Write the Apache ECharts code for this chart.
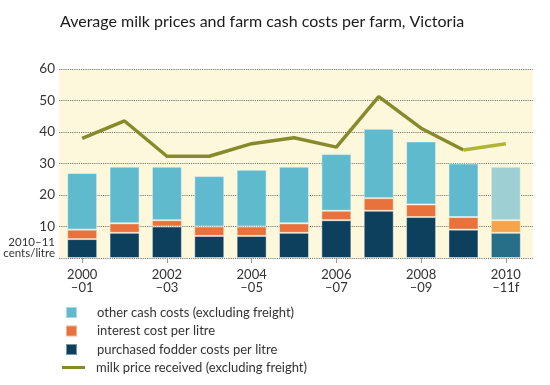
<!DOCTYPE html>
<html><head><meta charset="utf-8">
<script src="https://cdn.jsdelivr.net/npm/echarts@6/dist/echarts.min.js"></script>
<style>html,body{margin:0;padding:0;background:#fff}#c{width:550px;height:385px}</style>
</head><body><div id="c"></div>
<script>
const categories = ['2000\n–01','2001\n–02','2002\n–03','2003\n–04','2004\n–05','2005\n–06','2006\n–07','2007\n–08','2008\n–09','2009\n–10','2010\n–11f'];
const fodder   = [6, 8, 10, 7, 7, 8, 12, 15, 13, 9, 8];
const interest = [3, 3, 2, 3, 3, 3, 3, 4, 4, 4, 4];
const other    = [18, 18, 17, 16, 18, 18, 18, 22, 20, 17, 17];
const milkPrice = [38, 43.5, 32.3, 32.3, 36.3, 38.2, 35.2, 51.2, 41.2, 34.3, 36.3];
const yTicks = [0, 10, 20, 30, 40, 50, 60];

const FONT = 'Lato';
const C_OTHER = '#60bacd', C_INT = '#e9723c', C_FOD = '#0c405c';
const F_OTHER = '#9dcfd3', F_INT = '#f5a44c', F_FOD = '#276e88';
const C_LINE = '#878a2a', F_LINE = '#b1b537';
const last = categories.length - 1;

function barData(vals, c, fc) {
  return vals.map((v, i) => i === last ? {value: v, itemStyle: {color: fc}} : v);
}
const lineMain = milkPrice.map((v, i) => i <= last - 1 ? v : '-');
const lineFc = milkPrice.map((v, i) => i >= last - 1 ? v : '-');

const chart = echarts.init(document.getElementById('c'), null, {renderer: 'canvas'});
const bar = {borderColor: 'rgba(255,255,255,0.45)', borderWidth: 1};
chart.setOption({
  animation: false,
  textStyle: {fontFamily: FONT},
  title: {text: 'Average milk prices and farm cash costs per farm, Victoria', left: 55, top: 9,
    textStyle: {fontFamily: FONT, fontSize: 16, fontWeight: 'normal', color: '#1a1a1a'}},
  grid: [
    {left: 59, right: 17, top: 69, bottom: 127, show: true, backgroundColor: '#fdf8db', borderWidth: 0},
    {left: 61, right: 23, top: 69, bottom: 127}
  ],
  xAxis: [
    {type: 'value', gridIndex: 0, show: false, min: 0, max: 1},
    {type: 'category', gridIndex: 1, data: categories,
      axisLine: {show: false},
      axisTick: {show: true, alignWithLabel: true, length: 5, lineStyle: {color: '#999'}},
      axisLabel: {interval: 1, color: '#333', fontSize: 13, lineHeight: 13, margin: 10, fontFamily: FONT}}
  ],
  yAxis: [
    {type: 'value', gridIndex: 0, min: 0, max: 60, interval: 10,
      axisLine: {show: false}, axisTick: {show: false},
      splitLine: {show: true, lineStyle: {type: [1.2, 1], color: '#7a7a7a', width: 1}},
      axisLabel: {color: '#333', fontSize: 13.5, margin: 4, fontFamily: FONT,
        formatter: v => v === 0 ? '' : String(v)}},
    {type: 'value', gridIndex: 1, min: 0, max: 60, interval: 10, show: false, splitLine: {show: false}}
  ],
  legend: [
    {orient: 'vertical', left: 65, top: 306, padding: 0, itemWidth: 11, itemHeight: 11, itemGap: 5.5, icon: 'rect',
      data: ['other cash costs (excluding freight)', 'interest cost per litre', 'purchased fodder costs per litre'],
      textStyle: {color: '#333', fontSize: 13, fontFamily: FONT, padding: [0, 0, 0, 15]}},
    {orient: 'vertical', left: 62, top: 361, padding: 0, itemWidth: 23, itemHeight: 11,
      data: [{name: 'milk price received (excluding freight)', icon: 'path://M0,4h23v3h-23z'}],
      textStyle: {color: '#333', fontSize: 13, fontFamily: FONT, padding: [0, 0, 0, 6]}}
  ],
  graphic: [
    {type: 'text', right: 550 - 55, top: 236, style: {text: '2010–11', fontFamily: FONT, fontSize: 11.5, fill: '#333', textAlign: 'right'}},
    {type: 'text', right: 550 - 55, top: 247, style: {text: 'cents/litre', fontFamily: FONT, fontSize: 11.5, fill: '#333', textAlign: 'right'}}
  ],
  series: [
    {name: 'purchased fodder costs per litre', type: 'bar', stack: 's', xAxisIndex: 1, yAxisIndex: 1, barWidth: 30,
      itemStyle: Object.assign({color: C_FOD}, bar), data: barData(fodder, C_FOD, F_FOD)},
    {name: 'interest cost per litre', type: 'bar', stack: 's', xAxisIndex: 1, yAxisIndex: 1, barWidth: 30,
      itemStyle: Object.assign({color: C_INT}, bar), data: barData(interest, C_INT, F_INT)},
    {name: 'other cash costs (excluding freight)', type: 'bar', stack: 's', xAxisIndex: 1, yAxisIndex: 1, barWidth: 30,
      itemStyle: Object.assign({color: C_OTHER}, bar), data: barData(other, C_OTHER, F_OTHER)},
    {name: 'milk price received (excluding freight)', type: 'line', xAxisIndex: 1, yAxisIndex: 1,
      symbol: 'none', lineStyle: {color: C_LINE, width: 3.5}, itemStyle: {color: C_LINE}, data: lineMain},
    {name: 'milk price forecast', type: 'line', xAxisIndex: 1, yAxisIndex: 1,
      symbol: 'none', lineStyle: {color: F_LINE, width: 3.5}, itemStyle: {color: F_LINE}, data: lineFc}
  ]
});
</script></body></html>
